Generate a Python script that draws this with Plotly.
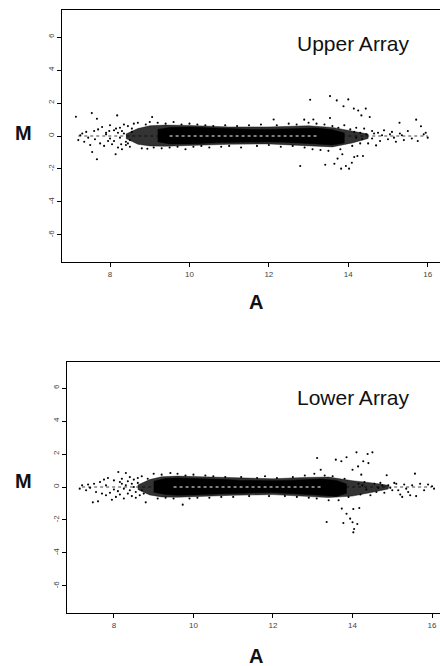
import plotly.graph_objects as go

# ---------------- data ----------------
x_ticks = [8, 10, 12, 14, 16]
x_ticktext = ["8", "10", "12", "14", "16"]
y_ticks = [-6, -4, -2, 0, 2, 4, 6]
y_ticktext = ["-6", "-4", "-2", "0", "2", "4", "6"]

# dense core of the cloud (upper / lower edge of the black band)
upper_core_A = [9.2, 9.5, 10.0, 10.4, 10.8, 11.2, 11.6, 12.0, 12.4, 12.8, 13.2, 13.6, 13.9]
upper_core_hi = [0.40, 0.52, 0.54, 0.50, 0.46, 0.42, 0.40, 0.40, 0.42, 0.45, 0.48, 0.38, 0.18]
upper_core_lo = [-0.35, -0.48, -0.48, -0.44, -0.40, -0.38, -0.36, -0.36, -0.38, -0.42, -0.48, -0.55, -0.42]
# looser halo around the core
upper_halo_A = [8.4, 8.7, 9.0, 9.4, 10.0, 11.0, 12.0, 13.0, 13.6, 14.1, 14.5]
upper_halo_hi = [0.12, 0.45, 0.62, 0.66, 0.64, 0.55, 0.55, 0.62, 0.52, 0.32, 0.12]
upper_halo_lo = [-0.15, -0.50, -0.60, -0.62, -0.58, -0.50, -0.48, -0.58, -0.66, -0.42, -0.15]

lower_core_A = [9.0, 9.3, 9.6, 10.0, 10.4, 10.8, 11.2, 11.6, 12.0, 12.4, 12.8, 13.2, 13.6, 13.85]
lower_core_hi = [0.35, 0.52, 0.55, 0.53, 0.50, 0.45, 0.40, 0.38, 0.38, 0.40, 0.46, 0.48, 0.40, 0.18]
lower_core_lo = [-0.32, -0.46, -0.50, -0.48, -0.44, -0.40, -0.37, -0.35, -0.34, -0.36, -0.44, -0.50, -0.58, -0.38]
lower_halo_A = [8.6, 8.9, 9.2, 9.6, 10.2, 11.0, 12.0, 12.8, 13.4, 14.0, 14.5, 14.9]
lower_halo_hi = [0.12, 0.45, 0.62, 0.66, 0.62, 0.55, 0.50, 0.58, 0.60, 0.38, 0.25, 0.10]
lower_halo_lo = [-0.15, -0.48, -0.60, -0.62, -0.58, -0.50, -0.46, -0.56, -0.64, -0.55, -0.32, -0.12]

# sparse points (A, M)
upper_points = [
    (7.14, 1.17), (7.2, -0.25), (7.25, 0.05), (7.3, 0.15), (7.35, -0.35), (7.4, 0.25), (7.45, -0.1),
    (7.5, -0.55), (7.54, 1.39), (7.55, -0.97), (7.6, 0.3), (7.62, -0.2), (7.67, 1.05), (7.67, -1.41),
    (7.7, 0.4), (7.75, -0.45), (7.8, 0.55), (7.85, -0.6), (7.9, 0.2), (7.95, -0.3), (8.0, 0.65),
    (8.05, -0.5), (8.1, 0.35), (8.14, -1.11), (8.18, 1.25), (8.2, -0.7), (8.25, 0.5), (8.3, -0.8),
    (8.35, 0.7), (8.4, -0.55), (8.45, 0.6), (8.5, -0.65), (8.55, 0.45), (8.6, 0.75), (8.3, 0.3),
    (8.4, -0.35), (8.5, -0.25), (8.2, 0.2), (8.0, -0.15), (7.9, 0.1), (8.1, -0.3), (8.25, -0.1),
    (8.35, 0.15), (8.45, -0.45), (8.55, 0.25), (8.15, 0.45), (7.98, 0.3), (8.28, -0.5),
    (8.7, 0.8), (8.8, -0.75), (8.9, 0.7), (8.94, -0.77), (9.0, 0.85), (9.06, 1.15), (9.1, -0.7),
    (9.2, 0.8), (9.3, -0.75), (9.4, 0.75), (9.5, -0.7), (9.6, 0.85), (9.7, -0.65), (9.8, 0.7),
    (9.9, -0.8), (10.0, 0.75), (10.1, -0.65), (10.2, 0.7), (10.3, -0.6), (10.4, 0.65), (10.5, -0.7),
    (10.6, 0.6), (10.8, -0.65), (10.9, 0.65), (11.0, -0.6), (11.2, 0.6), (11.3, -0.7), (11.5, 0.65),
    (11.7, -0.6), (11.8, 0.7), (12.0, -0.55), (12.12, 1.0), (12.2, 0.65), (12.3, -0.65), (12.5, 0.75),
    (12.6, -0.6), (12.7, 0.7), (12.79, -1.82), (12.89, 0.99), (12.9, -0.7), (13.0, 0.8), (13.04, 2.2),
    (13.1, -0.8), (13.12, 1.0), (13.2, 0.75), (13.3, -0.85), (13.4, 0.7), (13.42, -1.74), (13.5, -0.9),
    (13.54, 2.42), (13.54, 1.09), (13.6, 0.6), (13.65, -1.68), (13.71, 2.16), (13.73, -1.37),
    (13.75, 0.5), (13.8, -0.8), (13.82, -1.98), (13.85, -1.11), (13.88, 1.8), (13.9, 0.65),
    (13.94, -1.82), (14.0, 2.22), (14.02, -1.98), (14.05, 0.4), (14.09, -1.62), (14.1, -0.6),
    (14.14, 1.66), (14.15, -1.27), (14.2, 0.5), (14.23, -1.21), (14.25, 1.55), (14.3, -0.45),
    (14.33, 1.25), (14.37, -1.21), (14.4, 0.45), (14.44, 1.66), (14.5, -0.45), (14.54, 1.15),
    (14.6, 0.3), (14.7, -0.57), (14.75, 0.2), (14.8, -0.3), (14.9, 0.35), (15.0, -0.2), (15.1, 0.25),
    (15.2, -0.35), (15.29, 0.8), (15.3, 0.15), (15.4, -0.25), (15.5, 0.3), (15.6, -0.15),
    (15.71, 0.99), (15.75, -0.3), (15.83, 0.59), (15.9, 0.1), (16.0, -0.1), (15.95, 0.2),
    (14.3, 0.2), (14.45, 0.1), (14.6, -0.15), (14.35, -0.2), (14.2, -0.1), (14.15, 0.25),
    (14.65, 0.15), (14.85, 0.05), (15.05, 0.1), (15.15, -0.1), (15.35, 0.05),
]

lower_points = [
    (7.14, -0.1), (7.2, 0.1), (7.3, -0.2), (7.35, 0.15), (7.4, -0.05), (7.47, -0.93), (7.5, 0.2),
    (7.55, -0.3), (7.6, -0.87), (7.65, 0.3), (7.7, -0.4), (7.75, 0.45), (7.8, -0.5), (7.85, 0.55),
    (7.9, -0.35), (7.95, -0.77), (8.0, 0.4), (8.05, -0.6), (8.11, 0.91), (8.15, -0.45), (8.2, 0.5),
    (8.25, -0.7), (8.3, 0.85), (8.35, -0.4), (8.4, 0.6), (8.45, -0.55), (8.5, 0.45), (8.55, -0.65),
    (8.6, 0.55), (8.65, -0.5), (8.7, 0.65), (8.75, -0.4), (8.8, -0.93), (8.85, 0.5), (8.2, 0.2),
    (8.4, -0.2), (8.6, 0.25), (8.0, -0.15), (7.8, 0.1), (8.3, 0.1), (8.1, -0.25), (8.25, -0.1),
    (8.45, 0.2), (8.55, -0.3), (8.35, 0.35), (8.15, 0.3), (8.5, 0.0), (8.7, -0.2),
    (9.0, 0.8), (9.1, -0.7), (9.2, 0.75), (9.3, -0.65), (9.42, 0.85), (9.5, -0.7), (9.6, 0.8),
    (9.73, -1.07), (9.8, 0.7), (9.9, -0.7), (10.0, 0.75), (10.1, -0.65), (10.3, 0.7), (10.4, -0.65),
    (10.5, 0.65), (10.7, -0.6), (10.8, 0.6), (11.0, -0.6), (11.2, 0.6), (11.4, -0.55), (11.6, 0.55),
    (11.8, 0.65), (11.9, -0.55), (12.1, 0.55), (12.3, -0.55), (12.5, 0.6), (12.6, -0.6), (12.8, 0.7),
    (12.9, -0.65), (13.04, 0.8), (13.1, -0.7), (13.11, 1.76), (13.2, 1.05), (13.3, 0.7),
    (13.35, -2.12), (13.4, -0.8), (13.5, 0.65),
    (13.58, 1.66), (13.65, -0.8), (13.72, 1.56), (13.73, -1.31), (13.77, -2.18), (13.8, 0.5),
    (13.85, 1.8), (13.85, -1.62), (13.9, -0.6), (13.94, -1.92), (14.0, 1.05), (14.0, -2.14),
    (14.02, -1.33), (14.02, -2.75), (14.04, -2.55), (14.1, 2.1), (14.12, -2.24), (14.14, 1.25),
    (14.17, -1.27), (14.2, -0.45), (14.22, 0.75), (14.27, 1.56), (14.3, 0.3), (14.38, 2.0),
    (14.4, 1.45), (14.45, -0.5), (14.5, 2.1), (14.55, 0.2), (14.6, -0.3), (14.7, 0.25), (14.8, -0.35),
    (14.86, 0.71), (14.9, 0.1), (15.0, -0.2), (15.1, 0.2), (15.2, -0.45), (15.3, 0.15), (15.4, -0.3),
    (15.5, 0.1), (15.57, 0.81), (15.6, -0.55), (15.7, 0.2), (15.8, -0.2), (15.9, 0.15), (16.0, 0.05),
    (16.05, -0.1), (15.25, -0.6), (15.45, -0.5), (14.25, 0.1), (14.35, -0.15), (14.15, 0.2),
    (14.65, -0.05), (14.75, 0.1), (14.95, -0.05), (15.05, 0.25), (15.15, -0.2), (15.35, -0.1),
]

zero_line_A = [7.2, 16.0]
zero_line_M = [0, 0]
core_line_A = [9.5, 13.2]
core_line_M = [0, 0]

# ---------------- figure ----------------
W, H = 440, 666
fig = go.Figure()


def band(A, hi, lo, color, xa, ya):
    fig.add_trace(go.Scatter(x=A + A[::-1], y=hi + lo[::-1], mode="lines",
                             fill="toself", fillcolor=color, line=dict(width=0.5, color=color),
                             xaxis=xa, yaxis=ya, hoverinfo="skip"))


def add_panel(halo, core, points, xa, ya):
    fig.add_trace(go.Scatter(x=zero_line_A, y=zero_line_M, mode="lines",
                             line=dict(color="#444", width=1, dash="dot"),
                             xaxis=xa, yaxis=ya, hoverinfo="skip"))
    band(*halo, "rgba(0,0,0,0.8)", xa, ya)
    band(*core, "black", xa, ya)
    fig.add_trace(go.Scatter(x=[p[0] for p in points], y=[p[1] for p in points], mode="markers",
                             marker=dict(size=2.1, color="black"),
                             xaxis=xa, yaxis=ya))
    fig.add_trace(go.Scatter(x=core_line_A, y=core_line_M, mode="lines",
                             line=dict(color="white", width=1, dash="dot"),
                             xaxis=xa, yaxis=ya, hoverinfo="skip"))


add_panel((upper_halo_A, upper_halo_hi, upper_halo_lo),
          (upper_core_A, upper_core_hi, upper_core_lo), upper_points, "x", "y")
add_panel((lower_halo_A, lower_halo_hi, lower_halo_lo),
          (lower_core_A, lower_core_hi, lower_core_lo), lower_points, "x2", "y2")

base = dict(showgrid=False, zeroline=False, showline=True, linecolor="black",
            linewidth=1.4, ticks="outside", ticklen=4, tickwidth=1,
            tickcolor="black", ticklabeloverflow="allow",
            tickfont=dict(family="Liberation Sans, Arial", size=8, color="#444"))
x_common = dict(mirror=True, **base)       # bottom and top frame lines
y_common = dict(mirror=False, tickangle=-90, **base)  # left line only (right edge is off-page)


def xd(a, b):
    return [a / W, min(1.0, b / W)]


def yd(top, bottom):
    return [1 - bottom / H, 1 - top / H]


fig.update_layout(
    width=W, height=H, margin=dict(l=0, r=0, t=0, b=0),
    paper_bgcolor="white", plot_bgcolor="white", showlegend=False,
    xaxis=dict(domain=xd(62, 441), anchor="y", range=[6.79, 16.31],
               tickvals=x_ticks, ticktext=x_ticktext, **x_common),
    yaxis=dict(domain=yd(10, 262), anchor="x", range=[-7.64, 7.64],
               tickvals=y_ticks, ticktext=y_ticktext, **y_common),
    xaxis2=dict(domain=xd(67, 441), anchor="y2", range=[6.82, 16.20],
                tickvals=x_ticks, ticktext=x_ticktext, **x_common),
    yaxis2=dict(domain=yd(362, 613), anchor="x2", range=[-7.64, 7.58],
                tickvals=y_ticks, ticktext=y_ticktext, **y_common),
)

font_title = dict(family="Liberation Sans, Arial", size=21, color="#111")
font_lab = dict(family="Liberation Sans, Arial", size=20, color="#111")


def txt(x, y, s, font, bold=False):
    fig.add_annotation(x=x / W, y=1 - y / H, xref="paper", yref="paper",
                       text=("<b>%s</b>" % s) if bold else s, showarrow=False,
                       font=font, xanchor="center", yanchor="middle")


txt(353, 43, "Upper Array", font_title)
txt(353, 397, "Lower Array", font_title)
txt(23, 133, "M", font_lab, True)
txt(23, 481, "M", font_lab, True)
txt(256, 302, "A", font_lab, True)
txt(256, 656, "A", font_lab, True)

# remove the browser's default body margin so the figure fills the 440x666 window exactly
fig.write_html("out.html", config={"displayModeBar": False},
               post_script="document.body.style.margin='0';document.body.style.overflow='hidden';")
